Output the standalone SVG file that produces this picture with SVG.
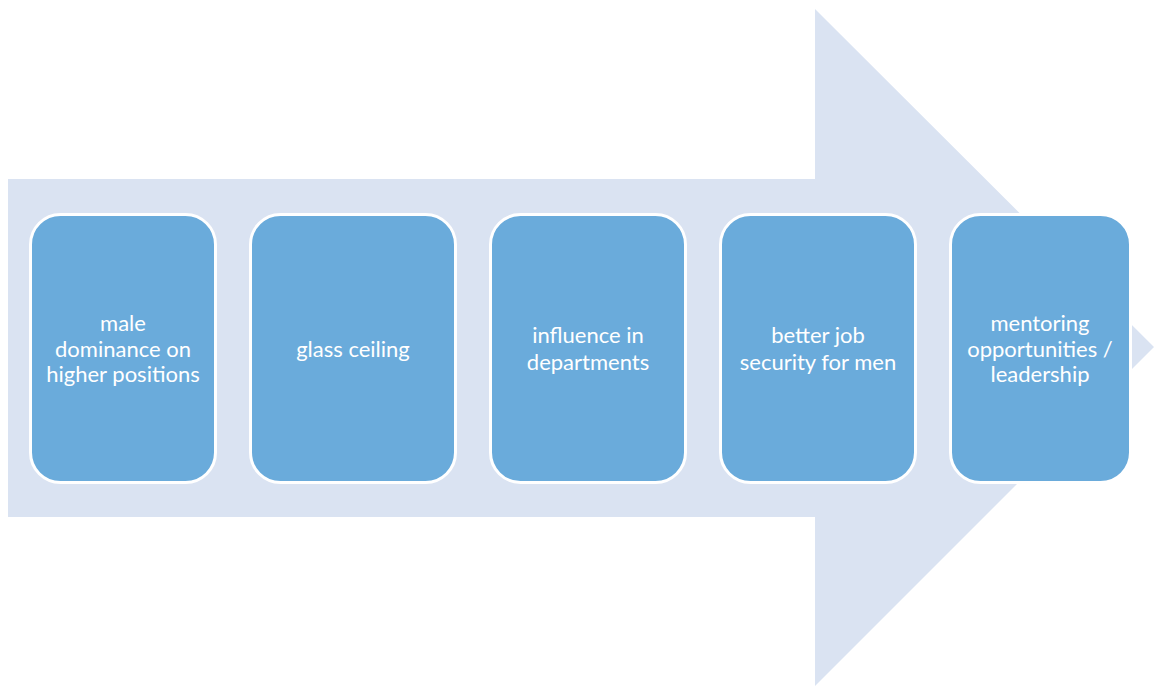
<svg xmlns="http://www.w3.org/2000/svg" width="1157" height="686" viewBox="0 0 1157 686">
<style>
.box{fill:#6AABDB;stroke:#FFFFFF;stroke-width:3}
.t{font-family:"Lato","Liberation Sans",sans-serif;font-size:22px;fill:#FFFFFF;text-anchor:middle}
</style>
<rect width="1157" height="686" fill="#FFFFFF"/>
<g id="arrow">
<polygon points="8,179 815,179 815,9 1154,347 815,686 815,517 8,517" fill="#DAE3F2"/>
</g>
<g id="connectors"></g>
<g id="node1">
<rect class="box" x="30.5" y="214.5" width="185" height="268" rx="30" ry="30"/>
<text class="t" x="123" y="331">male</text>
<text class="t" x="123" y="357">dominance on</text>
<text class="t" x="123" y="382">higher positions</text>
</g>
<g id="node2">
<rect class="box" x="250.5" y="214.5" width="205" height="268" rx="30" ry="30"/>
<text class="t" x="353" y="357">glass ceiling</text>
</g>
<g id="node3">
<rect class="box" x="490.5" y="214.5" width="195" height="268" rx="30" ry="30"/>
<text class="t" x="588" y="343">influence in</text>
<text class="t" x="588" y="370">departments</text>
</g>
<g id="node4">
<rect class="box" x="720.5" y="214.5" width="195" height="268" rx="30" ry="30"/>
<text class="t" x="818" y="343">better job</text>
<text class="t" x="818" y="370">security for men</text>
</g>
<g id="node5">
<rect class="box" x="950.5" y="214.5" width="180" height="268" rx="30" ry="30"/>
<text class="t" x="1040" y="331">mentoring</text>
<text class="t" x="1040" y="357">opportunities /</text>
<text class="t" x="1040" y="382">leadership</text>
</g>
</svg>
